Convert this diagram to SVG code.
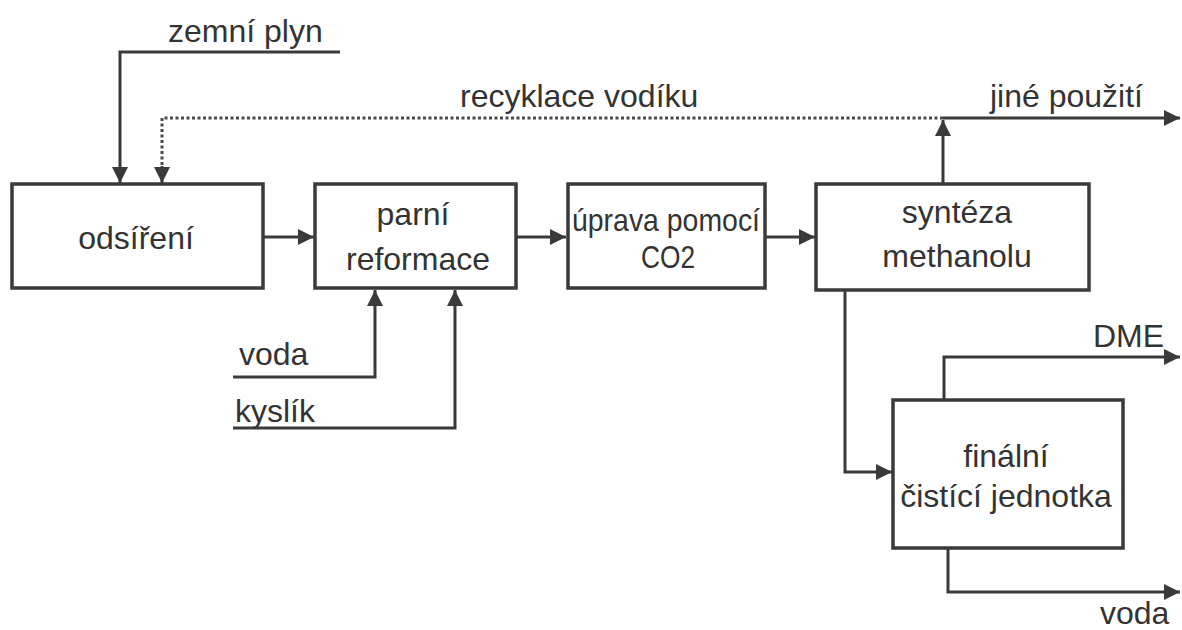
<svg xmlns="http://www.w3.org/2000/svg" width="1182" height="630" viewBox="0 0 1182 630">
<style>
.box{fill:#fff;stroke:#3a3a3a;stroke-width:3.5}
.ln{fill:none;stroke:#3a3a3a;stroke-width:3}
.dot{fill:none;stroke:#4a4a4a;stroke-width:3;stroke-dasharray:3 2.5}
.t{font-family:"Liberation Sans",Arial,sans-serif;font-size:32px;fill:#333}
.c{text-anchor:middle}
</style>
<defs>
<marker id="ah" viewBox="0 0 16 16" refX="16" refY="8" markerWidth="16" markerHeight="16" markerUnits="userSpaceOnUse" orient="auto">
<path d="M0,0 L16,8 L0,16 z" fill="#3a3a3a"/>
</marker>
</defs>
<rect width="1182" height="630" fill="#fff"/>
<g id="connectors">
<path class="ln" d="M340,52 H120 V183" marker-end="url(#ah)"/>
<path class="dot" d="M943,118 H162 V168"/>
<path class="ln" d="M162,166 V183" marker-end="url(#ah)"/>
<path class="ln" d="M943,185 V120" marker-end="url(#ah)"/>
<path class="ln" d="M943,118 H1180" marker-end="url(#ah)"/>
<path class="ln" d="M263,237 H314" marker-end="url(#ah)"/>
<path class="ln" d="M516,237 H566" marker-end="url(#ah)"/>
<path class="ln" d="M765,237 H815" marker-end="url(#ah)"/>
<path class="ln" d="M233,377 H375 V290" marker-end="url(#ah)"/>
<path class="ln" d="M233,428 H455 V290" marker-end="url(#ah)"/>
<path class="ln" d="M845,290 V472 H892" marker-end="url(#ah)"/>
<path class="ln" d="M944,400 V357 H1180" marker-end="url(#ah)"/>
<path class="ln" d="M948,548 V592 H1180" marker-end="url(#ah)"/>
</g>
<g id="labels">
<text class="t" x="168" y="42">zemní plyn</text>
<text class="t" x="460" y="107">recyklace vodíku</text>
<text class="t" x="990" y="107">jiné použití</text>
<text class="t" x="239" y="365">voda</text>
<text class="t" x="235" y="422">kyslík</text>
<text class="t" x="1093" y="347">DME</text>
<text class="t" x="1100" y="624">voda</text>
</g>
<g id="odsireni">
<rect class="box" x="12" y="184" width="251" height="104"/>
<text class="t c" x="136" y="249">odsíření</text>
</g>
<g id="parni-reformace">
<rect class="box" x="315" y="184" width="201" height="104"/>
<text class="t c" x="413" y="225">parní</text>
<text class="t c" x="418" y="270">reformace</text>
</g>
<g id="uprava">
<rect class="box" x="568" y="184" width="197" height="104"/>
<text class="t c" x="666" y="231" textLength="188" lengthAdjust="spacingAndGlyphs">úprava pomocí</text>
<text class="t c" x="668" y="268" textLength="54" lengthAdjust="spacingAndGlyphs">CO2</text>
</g>
<g id="synteza">
<rect class="box" x="816" y="184" width="273" height="106"/>
<text class="t c" x="957" y="223">syntéza</text>
<text class="t c" x="957" y="267">methanolu</text>
</g>
<g id="finalni">
<rect class="box" x="893" y="400" width="230" height="148"/>
<text class="t c" x="1006" y="467">finální</text>
<text class="t c" x="1006" y="507">čistící jednotka</text>
</g>
</svg>
